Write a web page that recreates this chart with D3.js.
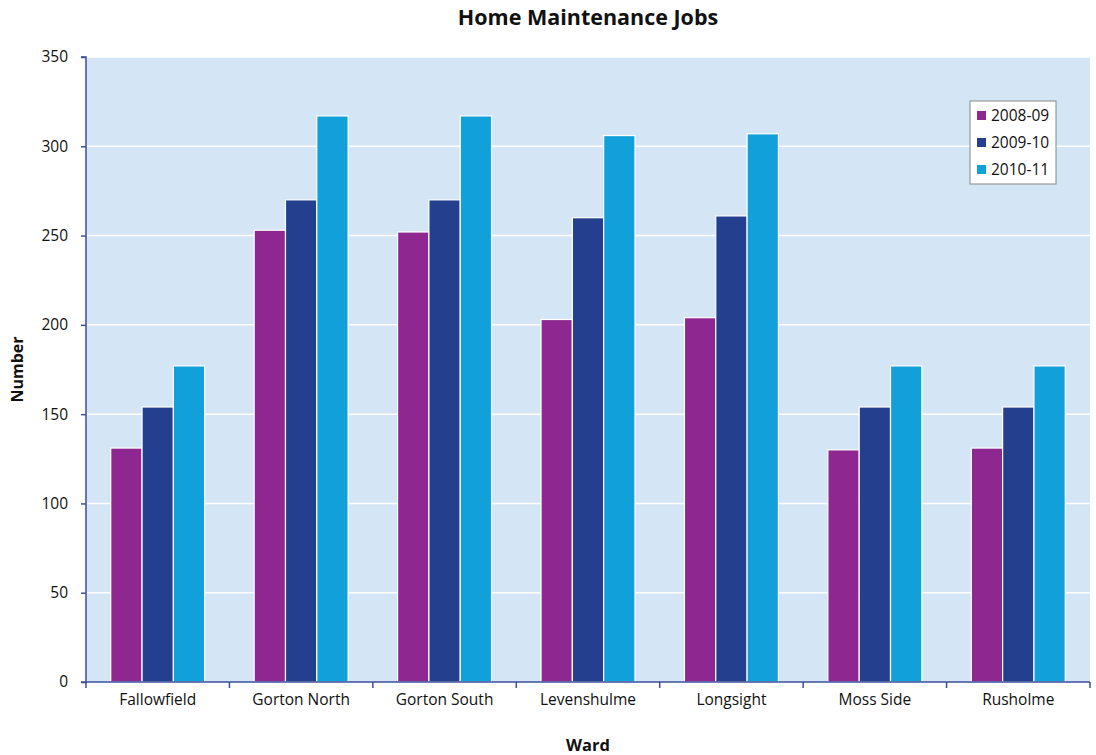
<!DOCTYPE html>
<html><head><meta charset="utf-8">
<script src="https://cdn.jsdelivr.net/npm/d3@7"></script>
<style>body{margin:0;background:#fff;} svg{display:block;font-family:"Open Sans",sans-serif;}</style>
</head><body>
<svg id="c" width="1096" height="755"></svg>
<script>
const categories = ["Fallowfield","Gorton North","Gorton South","Levenshulme","Longsight","Moss Side","Rusholme"];
const seriesNames = ["2008-09","2009-10","2010-11"];
const s2008 = [131,253,252,203,204,130,131];
const s2009 = [154,270,270,260,261,154,154];
const s2010 = [177,317,317,306,307,177,177];
const yTicks = [0,50,100,150,200,250,300,350];
const colors = ["#8E278F","#233F8D","#12A0DA"];
const series = [s2008,s2009,s2010];

const svg = d3.select("#c");
const L=86, R=1090, T=57, B=682;
const x = d3.scaleBand().domain(categories).range([L,R]).paddingInner(0.345).paddingOuter(0.1725);
const x1 = d3.scaleBand().domain(seriesNames).range([0,x.bandwidth()]);
const y = d3.scaleLinear().domain([0,350]).range([B,T]);

svg.append("rect").attr("x",L).attr("y",T).attr("width",R-L).attr("height",B-T).attr("fill","#D4E6F5");
svg.append("g").selectAll("line").data(yTicks.slice(1)).join("line")
  .attr("x1",L).attr("x2",R).attr("y1",d=>y(d)).attr("y2",d=>y(d))
  .attr("stroke","#fff").attr("stroke-width",1.5);

const g = svg.append("g");
categories.forEach((c,i)=>{
  seriesNames.forEach((s,j)=>{
    g.append("rect").attr("x",x(c)+x1(s)).attr("y",y(series[j][i]))
      .attr("width",x1.bandwidth()).attr("height",y(0)-y(series[j][i]))
      .attr("fill",colors[j]).attr("stroke","#fff").attr("stroke-width",1.2);
  });
});

const axisColor="#3B4E9C";
const yAxis = svg.append("g").attr("transform",`translate(${L},0)`)
  .call(d3.axisLeft(y).tickValues(yTicks).tickSize(5).tickPadding(13).tickFormat(d3.format("d")));
yAxis.select(".domain").attr("stroke",axisColor).attr("stroke-width",1.5).attr("d",`M-5,${T}H0V${B}`);
yAxis.selectAll(".tick line").attr("stroke",axisColor).attr("stroke-width",1.5);
yAxis.selectAll("text").attr("font-size",15.5).attr("fill","#111").attr("font-family","Open Sans");

const xb = d3.scalePoint().domain(d3.range(categories.length+1)).range([L,R]);
const xAxis = svg.append("g").attr("transform",`translate(0,${B})`);
xAxis.append("line").attr("x1",L-5).attr("x2",R).attr("stroke",axisColor).attr("stroke-width",1.5);
xAxis.selectAll(".tk").data(d3.range(categories.length+1)).join("line")
  .attr("x1",d=>xb(d)).attr("x2",d=>xb(d)).attr("y1",0).attr("y2",6)
  .attr("stroke",axisColor).attr("stroke-width",1.5);
xAxis.selectAll("text").data(categories).join("text")
  .attr("x",d=>x(d)+x.bandwidth()/2).attr("y",23).attr("text-anchor","middle")
  .attr("font-size",15.5).attr("fill","#111").text(d=>d);

svg.append("text").attr("x",(L+R)/2).attr("y",25).attr("text-anchor","middle")
  .attr("font-size",21.5).attr("font-weight","bold").attr("fill","#111").text("Home Maintenance Jobs");
svg.append("text").attr("x",(L+R)/2).attr("y",751).attr("text-anchor","middle")
  .attr("font-size",16.5).attr("font-weight","bold").attr("fill","#111").text("Ward");
svg.append("text").attr("transform",`translate(23,${(T+B)/2}) rotate(-90)`).attr("text-anchor","middle")
  .attr("font-size",16).attr("font-weight","bold").attr("fill","#111").text("Number");

const lg = svg.append("g").attr("transform","translate(970,101)");
lg.append("rect").attr("width",86).attr("height",83).attr("fill","#fff").attr("stroke","#888").attr("stroke-width",1);
seriesNames.forEach((s,j)=>{
  lg.append("rect").attr("x",7).attr("y",10+j*27).attr("width",9).attr("height",9).attr("fill",colors[j]);
  lg.append("text").attr("x",21).attr("y",20+j*27).attr("font-size",15.5).attr("fill","#111").text(s);
});
</script>
</body></html>
